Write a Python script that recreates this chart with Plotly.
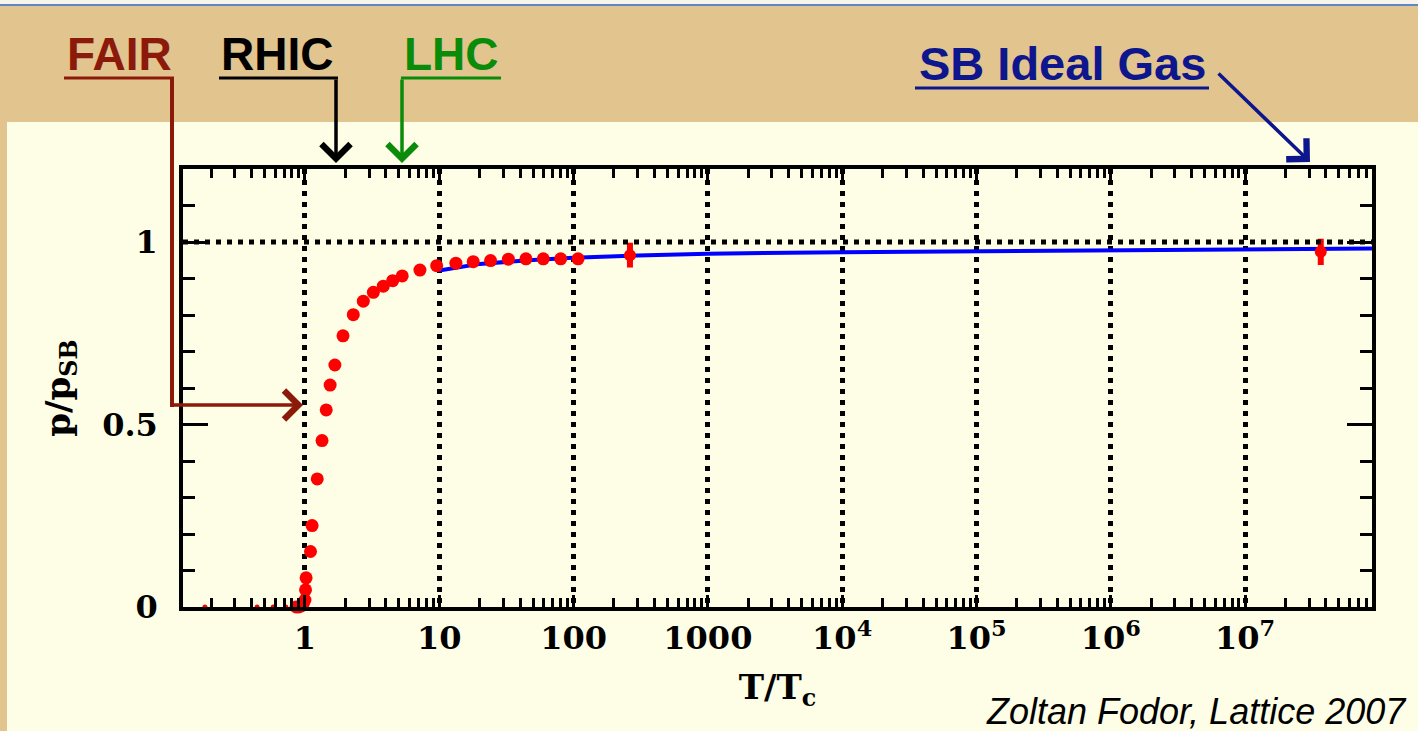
import plotly.graph_objects as go

# ---------------- data ----------------
# lattice points (T/Tc, p/p_SB)
T_lat = [0.86, 0.90, 0.94, 0.97, 1.00, 1.01, 1.02, 1.10, 1.13, 1.235, 1.34, 1.44, 1.54, 1.67,
         1.92, 2.29, 2.72, 3.23, 3.83, 4.50, 5.30, 7.18, 9.57, 13.3, 17.9, 24.1, 32.7, 44.2,
         59.5, 80.2, 108.0]
p_lat = [0.0, 0.0, 0.003, 0.008, 0.019, 0.047, 0.080, 0.152, 0.223, 0.351, 0.456, 0.540, 0.608, 0.663,
         0.743, 0.801, 0.838, 0.862, 0.879, 0.894, 0.907, 0.923, 0.935, 0.942, 0.946, 0.949, 0.953, 0.954,
         0.954, 0.954, 0.954]
# tiny points along the axis at low T
T_low = [0.18, 0.44, 0.58, 0.72]
p_low = [0.0, 0.0, 0.0, 0.0]
# high-T points with error bars
T_err = [263.0, 3.66e7]
p_err = [0.964, 0.973]
e_err = [0.034, 0.036]
# perturbative curve
T_pert = [10, 20, 50, 100, 300, 1000, 1e4, 1e5, 1e6, 1e7, 9e7]
p_pert = [0.922, 0.940, 0.951, 0.957, 0.963, 0.968, 0.972, 0.975, 0.978, 0.980, 0.982]

# axis ticks
x_tickvals = [1, 10, 100, 1000, 1e4, 1e5, 1e6, 1e7]
x_ticktext = ["1", "10", "100", "1000", "10<sup>4</sup>", "10<sup>5</sup>", "10<sup>6</sup>", "10<sup>7</sup>"]
y_tickvals = [0, 0.5, 1]
y_ticktext = ["0", "0.5", "1"]

# ---------------- layout geometry (pixels) ----------------
W_FIG, H_FIG = 1418, 731
L, R, T, B = 183, 1372, 169, 607
PW, PH = R - L, B - T


def px(x):
    return (x - L) / PW


def py(y):
    return (B - y) / PH


x_minor = [m * 10 ** d for d in range(-1, 8) for m in range(2, 10) if 0.123 < m * 10 ** d < 8.8e7]
y_minor = [round(0.1 * i, 1) for i in range(1, 12) if i not in (5, 10)]

serif = "DejaVu Serif"
sans = "Liberation Sans, Arial"

fig = go.Figure()

fig.add_trace(go.Scatter(x=T_pert, y=p_pert, mode="lines",
                         line=dict(color="#0000FF", width=4), showlegend=False,
                         cliponaxis=False))
fig.add_trace(go.Scatter(x=T_low, y=p_low, mode="markers",
                         marker=dict(color="#FF0000", size=5), showlegend=False))
fig.add_trace(go.Scatter(x=T_lat, y=p_lat, mode="markers",
                         marker=dict(color="#FF0000", size=13), showlegend=False,
                         cliponaxis=False))
fig.add_trace(go.Scatter(x=T_err, y=p_err, mode="markers",
                         marker=dict(color="#FF0000", size=12, symbol="circle"),
                         error_y=dict(type="data", array=e_err, color="#FF0000",
                                      thickness=6, width=0),
                         showlegend=False))

shapes = []
# backgrounds
shapes.append(dict(type="rect", xref="paper", yref="paper", layer="below",
                   x0=px(0), x1=px(W_FIG), y0=py(0), y1=py(5),
                   fillcolor="#F7F4EC", line=dict(width=0)))
shapes.append(dict(type="line", xref="paper", yref="paper", layer="below",
                   x0=px(0), x1=px(W_FIG), y0=py(5), y1=py(5),
                   line=dict(color="#5A88C8", width=2)))
shapes.append(dict(type="rect", xref="paper", yref="paper", layer="below",
                   x0=px(7), x1=px(W_FIG + 2), y0=py(H_FIG + 2), y1=py(122),
                   fillcolor="#FEFEE6", line=dict(width=0)))
# dotted line at p/pSB = 1
shapes.append(dict(type="line", xref="paper", yref="y", x0=0, x1=1, y0=1, y1=1,
                   line=dict(color="black", width=5, dash="5px,6px")))

# label underlines & connectors
fair_c = "#8B1A0B"
rhic_c = "#000000"
lhc_c = "#0A8C0A"
sb_c = "#0D168C"


def seg(x0, y0, x1, y1, color, w=4):
    shapes.append(dict(type="line", xref="paper", yref="paper",
                       x0=px(x0), y0=py(y0), x1=px(x1), y1=py(y1),
                       line=dict(color=color, width=w)))


seg(64, 78, 174, 78, fair_c, 3)
seg(172, 78, 172, 407, fair_c, 4)
seg(219, 78, 338, 78, rhic_c, 3)
seg(401, 78, 501, 78, lhc_c, 3)
seg(915, 88, 1209, 88, sb_c, 3)

annotations = []


def label(text, xc, yc, color, size=46):
    annotations.append(dict(text=text, xref="paper", yref="paper", x=px(xc), y=py(yc),
                            xanchor="center", yanchor="middle", showarrow=False,
                            font=dict(family=sans, size=size, color=color, weight="bold")))


def arrow(x0, y0, x1, y1, color):
    annotations.append(dict(text="", xref="paper", yref="paper", x=px(x1), y=py(y1),
                            ax=x0 - x1, ay=y0 - y1, axref="pixel", ayref="pixel",
                            showarrow=True, arrowhead=4, arrowsize=1.6, arrowwidth=3.5,
                            arrowcolor=color, standoff=0, startstandoff=0))


label("FAIR", 119, 54, fair_c)
label("RHIC", 277, 54, rhic_c)
label("LHC", 451, 54, lhc_c)
label("SB Ideal Gas", 1062, 63, sb_c, 47)

arrow(170, 405, 303, 405, fair_c)
arrow(336, 78, 336, 163, rhic_c)
arrow(402, 78, 402, 163, lhc_c)
arrow(1217, 72, 1310, 162, sb_c)

annotations.append(dict(text="Zoltan Fodor, Lattice 2007", xref="paper", yref="paper",
                        x=px(1409), y=py(711), xanchor="right", yanchor="middle",
                        showarrow=False,
                        font=dict(family=sans, size=36, color="black", style="italic")))

tick_font = dict(family=serif, size=32, color="black", weight="bold")
title_font = dict(family=serif, size=34, color="black", weight="bold")

fig.update_layout(
    width=W_FIG, height=H_FIG,
    margin=dict(l=L, r=W_FIG - R, t=T, b=H_FIG - B, autoexpand=False),
    paper_bgcolor="#E2C48E",
    plot_bgcolor="rgba(0,0,0,0)",
    shapes=shapes,
    annotations=annotations,
    xaxis=dict(type="log", range=[-0.908, 7.945], showgrid=True, gridcolor="black",
               gridwidth=5, griddash="5px,6px", tickvals=x_tickvals, ticktext=x_ticktext,
               ticks="inside", ticklen=12, tickwidth=3, tickcolor="black",
               showline=True, linecolor="black", linewidth=3.5, mirror="allticks",
               zeroline=False, ticklabelstandoff=0,
               minor=dict(tickvals=x_minor, ticks="inside", ticklen=9, tickwidth=3,
                          tickcolor="black", showgrid=False),
               tickfont=tick_font,
               title=dict(text="T/T<sub>c</sub>", font=title_font, standoff=20)),
    yaxis=dict(range=[0, 1.2], showgrid=False, tickvals=y_tickvals, ticktext=y_ticktext,
               ticks="inside", ticklen=25, tickwidth=3, tickcolor="black",
               showline=True, linecolor="black", linewidth=3.5, mirror="allticks",
               zeroline=False, ticklabelstandoff=15,
               minor=dict(tickvals=y_minor, ticks="inside", ticklen=12, tickwidth=3,
                          tickcolor="black", showgrid=False),
               tickfont=tick_font,
               title=dict(text="p/p<sub>SB</sub>", font=title_font, standoff=22)),
)

fig.write_html("out.html")
